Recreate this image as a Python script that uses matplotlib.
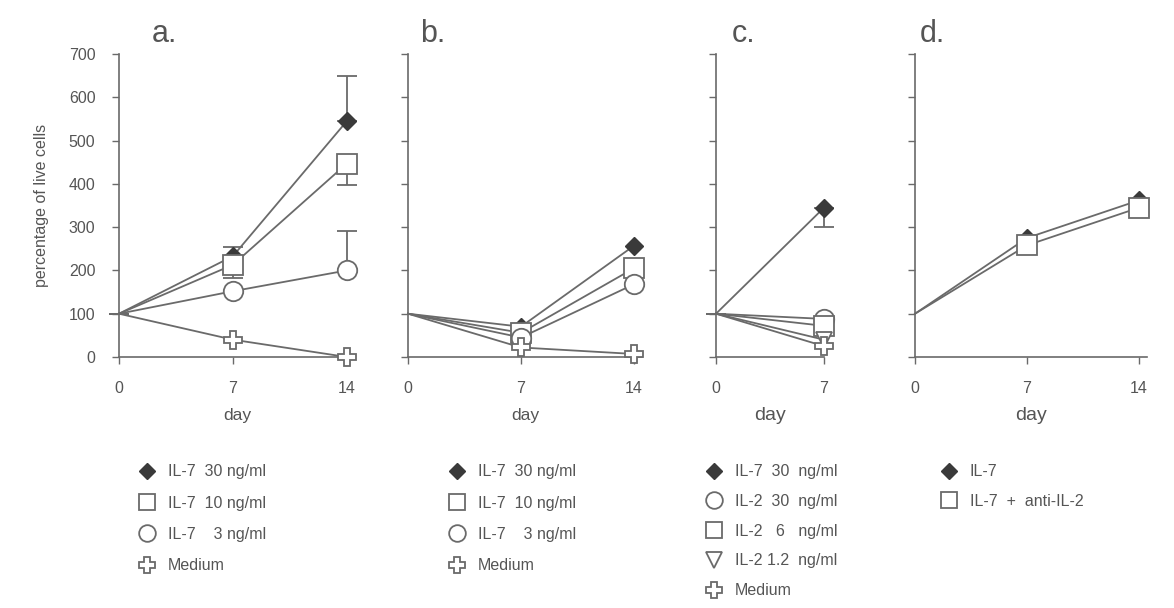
import numpy as np
import matplotlib
matplotlib.use('Agg')
import matplotlib.pyplot as plt
from matplotlib.lines import Line2D

plt.rcParams['font.family'] = ['Liberation Sans', 'DejaVu Sans']

GREY = '#6a6a6a'
TXT = '#555555'
DARK = '#3a3a3a'

# panel a: IL-7 dose response, days 0/7/14
days = [0, 7, 14]
a_il7_30 = [100, 233, 545]
a_il7_30_err = [0, 20, 105]
a_il7_10 = [100, 213, 447]
a_il7_10_err = [0, 30, 50]
a_il7_3 = [100, 152, 200]
a_il7_3_err = [0, 0, 92]
a_medium = [100, 40, 0]

# panel b
b_il7_30 = [100, 70, 257]
b_il7_10 = [100, 56, 205]
b_il7_3 = [100, 45, 168]
b_medium = [100, 22, 7]

# panel c: days 0/7 only
days_c = [0, 7]
c_il7_30 = [100, 345]
c_il7_30_err = [0, 45]
c_il2_30 = [100, 88]
c_il2_6 = [100, 72]
c_il2_12 = [100, 40]
c_medium = [100, 25]

# panel d
d_il7 = [100, 275, 362]
d_il7_anti = [100, 258, 345]

legend_ab = ['IL-7  30 ng/ml', 'IL-7  10 ng/ml', 'IL-7    3 ng/ml', 'Medium']
legend_c = ['IL-7  30  ng/ml', 'IL-2  30  ng/ml', 'IL-2   6   ng/ml',
            'IL-2 1.2  ng/ml', 'Medium']
legend_d = ['IL-7', 'IL-7  +  anti-IL-2']

STY = {
    'diamond': dict(marker='D', ms=9, mfc=DARK, mec=DARK),
    'square': dict(marker='s', ms=14, mfc='white', mec=GREY, mew=1.3),
    'circle': dict(marker='o', ms=14, mfc='white', mec=GREY, mew=1.3),
    'tri': dict(marker='v', ms=12, mfc='white', mec=GREY, mew=1.3),
    'plus': dict(marker='P', ms=13, mfc='white', mec=GREY, mew=1.3),
}
LEG_MS = {'diamond': 8, 'square': 12, 'circle': 12, 'tri': 11, 'plus': 11}

W, H = 1174, 608
fig = plt.figure(figsize=(W / 100, H / 100), dpi=100)


def make_ax(left_px, right_px, xmax, xticks):
    ax = fig.add_axes([left_px / W, 1 - 357 / H, (right_px - left_px) / W, 303 / H])
    ax.set_xlim(0, xmax)
    ax.set_ylim(0, 700)
    for s in ['top', 'right']:
        ax.spines[s].set_visible(False)
    for s in ['left', 'bottom']:
        ax.spines[s].set_color(GREY)
        ax.spines[s].set_linewidth(1.2)
    ax.set_xticks(xticks)
    ax.set_yticks(np.arange(0, 701, 100))
    ax.tick_params(colors=GREY, labelcolor=TXT, labelsize=11.5, length=5, width=1,
                   pad=12)
    return ax


def line(ax, x, y, kind, err=None, lower=False):
    if err is not None:
        yerr = [err, [0] * len(err)] if lower else [[0] * len(err), err]
        ax.errorbar(x, y, yerr=yerr, fmt='none', ecolor=GREY, elinewidth=1.3,
                    capsize=7, capthick=1.3, clip_on=False, zorder=2)
    # no marker at day 0 in the original
    ax.plot(x, y, color=GREY, lw=1.3, clip_on=False, zorder=3,
            markevery=list(range(1, len(x))), **STY[kind])


def legend(ax, kinds, labels, x_px, spacing):
    handles = []
    for k in kinds:
        st = dict(STY[k])
        st['ms'] = LEG_MS[k]
        handles.append(Line2D([], [], linestyle='none', **st))
    leg = fig.legend(handles, labels, loc='upper left',
                     bbox_to_anchor=(x_px / W, 1 - 458 / H), frameon=False,
                     fontsize=11.5, labelspacing=spacing, handletextpad=0.7,
                     handlelength=1.2, borderaxespad=0)
    for t in leg.get_texts():
        t.set_color(TXT)


# a
ax = make_ax(119, 355, 14.5, days)
line(ax, days, a_il7_30, 'diamond', a_il7_30_err)
line(ax, days, a_il7_10, 'square', a_il7_10_err, lower=True)
line(ax, days, a_il7_3, 'circle', a_il7_3_err)
line(ax, days, a_medium, 'plus')
ax.set_ylabel('percentage of live cells', color=TXT, fontsize=11.5, labelpad=14)
ax.set_xlabel('day', color=TXT, fontsize=12.5, labelpad=9)
ax.text(0.14, 1.04, 'a.', transform=ax.transAxes, fontsize=22, color=TXT)
legend(ax, ['diamond', 'square', 'circle', 'plus'], legend_ab, 131, 1.02)

# b
ax = make_ax(408, 642, 14.5, days)
line(ax, days, b_il7_30, 'diamond')
line(ax, days, b_il7_10, 'square')
line(ax, days, b_il7_3, 'circle')
line(ax, days, b_medium, 'plus')
ax.set_yticklabels([])
ax.set_xlabel('day', color=TXT, fontsize=12.5, labelpad=9)
ax.text(0.05, 1.04, 'b.', transform=ax.transAxes, fontsize=22, color=TXT)
legend(ax, ['diamond', 'square', 'circle', 'plus'], legend_ab, 441, 1.02)

# c
ax = make_ax(716, 824, 7, days_c)
line(ax, days_c, c_il7_30, 'diamond', c_il7_30_err, lower=True)
line(ax, days_c, c_il2_30, 'circle')
line(ax, days_c, c_il2_6, 'square')
line(ax, days_c, c_il2_12, 'tri')
line(ax, days_c, c_medium, 'plus')
ax.set_yticklabels([])
ax.set_xlabel('day', color=TXT, fontsize=14, labelpad=8)
ax.text(0.15, 1.04, 'c.', transform=ax.transAxes, fontsize=22, color=TXT)
legend(ax, ['diamond', 'circle', 'square', 'tri', 'plus'], legend_c, 698, 0.92)

# d
ax = make_ax(915, 1147, 14.5, days)
line(ax, days, d_il7, 'diamond')
line(ax, days, d_il7_anti, 'square')
ax.set_yticklabels([])
ax.set_xlabel('day', color=TXT, fontsize=14, labelpad=8)
ax.text(0.02, 1.04, 'd.', transform=ax.transAxes, fontsize=22, color=TXT)
legend(ax, ['diamond', 'square'], legend_d, 933, 0.92)

fig.savefig('out.png', dpi=100, facecolor='white')
